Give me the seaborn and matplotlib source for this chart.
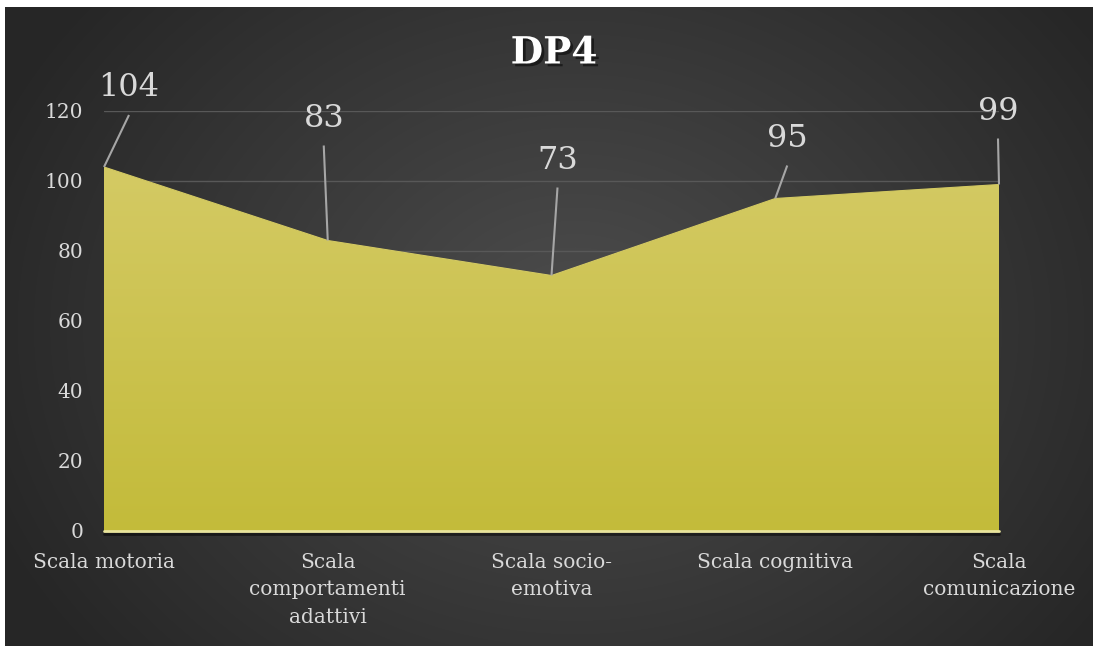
import numpy as np
import matplotlib
matplotlib.use("Agg")
import matplotlib.pyplot as plt
import matplotlib.patheffects as pe
from matplotlib.colors import LinearSegmentedColormap
import seaborn as sns

# Scores per scale
categories = ["Scala motoria", "Scala\ncomportamenti\nadattivi", "Scala socio-\nemotiva",
              "Scala cognitiva", "Scala\ncomunicazione"]
scores = [104, 83, 73, 95, 99]
y_ticks = [0, 20, 40, 60, 80, 100, 120]
title = "DP4"

# Label offsets (pixels, right/up) from each point to its value label
label_offsets = [(25, 79), (-4, 122), (6, 115), (12, 60), (-1, 73)]
leader_gap = 27  # pixels between label centre and top of its leader line

sns.set_theme(style="dark")
plt.rcParams["font.family"] = ["DejaVu Serif"]

W, H = 1094, 646
fig = plt.figure(figsize=(W / 100, H / 100), dpi=100, facecolor="white")

# Dark radial-gradient panel behind the chart
bg = fig.add_axes([5 / W, 0, (1093 - 5) / W, (646 - 7) / H], zorder=-10)
yy, xx = np.mgrid[0:639, 0:1088]
r = np.sqrt(((xx - 570) / 640.0) ** 2 + ((yy - 320) / 520.0) ** 2)
r = np.clip(r, 0, 1)
c_in = np.array([0x4d, 0x4d, 0x4d]) / 255
c_out = np.array([0x26, 0x26, 0x26]) / 255
img = c_in[None, None, :] * (1 - r[..., None]) + c_out[None, None, :] * r[..., None]
bg.imshow(img, aspect="auto", extent=[0, 1, 0, 1], origin="upper")
bg.set_axis_off()

ax = fig.add_axes([104 / W, (646 - 531) / H, (999 - 104) / W, (531 - 111) / H])
ax.set_facecolor("none")
x = np.arange(len(scores))

# Area with vertical gradient fill
poly = ax.fill_between(x, 0, scores, color="none", lw=0)
grad = LinearSegmentedColormap.from_list("fill", ["#c3bb3a", "#d4ca64"])
gimg = ax.imshow(np.linspace(0, 1, 256)[:, None], cmap=grad, aspect="auto",
                 extent=[0, len(scores) - 1, 0, max(scores)], origin="lower", zorder=2)
gimg.set_clip_path(poly.get_paths()[0], transform=ax.transData)
sns.lineplot(x=x, y=scores, ax=ax, color="#d3c962", lw=0.8, zorder=3)

ax.set_xlim(0, len(scores) - 1)
ax.set_ylim(0, 120)
ax.set_yticks(y_ticks)
ax.set_yticklabels([str(v) for v in y_ticks])
ax.set_xticks(x)
ax.set_xticklabels(categories)
for lbl in ax.get_xticklabels():
    lbl.set_linespacing(1.55)
for s in ax.spines.values():
    s.set_visible(False)
ax.grid(axis="y", color="#585858", lw=1)
ax.grid(axis="x", visible=False)
ax.set_axisbelow(True)
ax.tick_params(axis="y", length=0, pad=15, labelsize=14.5, labelcolor="#d9d9d9")
ax.tick_params(axis="x", length=6, width=1.6, color="#8c8c8c", direction="out",
               pad=10, labelsize=14.5, labelcolor="#d9d9d9")

# Baseline with a soft shadow
ax.axhline(0, color="#e9e49c", lw=2, zorder=4, clip_on=False,
           path_effects=[pe.SimpleLineShadow(offset=(0, -2), shadow_color="black", alpha=0.5),
                         pe.Normal()])

# Value labels with leader lines
for xi, v, (dx, dy) in zip(x, scores, label_offsets):
    px, py = ax.transData.transform((xi, v))
    lx, ly = ax.transData.inverted().transform((px + dx, py + dy - leader_gap))
    ax.plot([xi, lx], [v, ly], color="#a6a6a6", lw=1.5, clip_on=False, zorder=5,
            solid_capstyle="butt")
    ax.annotate(str(v), xy=(xi, v), xytext=(dx, dy), textcoords="offset pixels",
                ha="center", va="center", fontsize=23, color="#d9d9d9",
                annotation_clip=False, zorder=6)

fig.text(554 / W, 1 - 53 / H, title, ha="center", va="center", fontsize=27,
         fontweight="bold", color="white",
         path_effects=[pe.SimplePatchShadow(offset=(2, -2), shadow_rgbFace="black", alpha=0.5),
                       pe.Normal()])

fig.savefig("out.png", dpi=100, facecolor="white")
